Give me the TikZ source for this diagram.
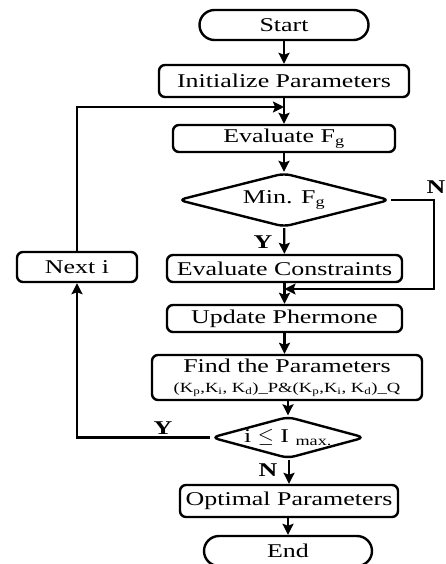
\documentclass[tikz,border=0pt]{standalone}
\usepackage{fontspec}
\setmainfont{Liberation Serif}[FakeStretch=1.33]
\usetikzlibrary{shapes.geometric,arrows.meta}
\tikzstyle{procbox} = [draw,line width=2.4pt,rectangle,rounded corners=6pt,
    inner sep=0pt,text centered,font=\fontsize{19.5}{22}\selectfont]
\tikzstyle{termbox} = [procbox,rounded corners=15pt]
\tikzstyle{decbox} = [draw,line width=2.4pt,diamond,aspect=4,rounded corners=7pt,
    inner sep=0pt,text centered,font=\fontsize{19.5}{22}\selectfont]
\tikzstyle{flow} = [line width=2.3pt,-{Stealth[length=11pt,width=11pt,inset=2pt]}]
\tikzstyle{yn} = [font=\bfseries\fontsize{19.5}{22}\selectfont]
\newcommand{\Fg}{F\textsubscript{g}}
\newcommand{\kpid}{(K\textsubscript{p},K\textsubscript{i}, K\textsubscript{d})}

\begin{document}
\begin{tikzpicture}[x=1pt,y=-1pt]
	\useasboundingbox (0,0) rectangle (445,564);

	\node(start) at (284,25) [termbox,minimum width=169pt,minimum height=30pt] {Start};
	\node(init) at (284,81) [procbox,minimum width=250pt,minimum height=32pt] {Initialize Parameters};
	\node(evalf) at (284,138.5) [procbox,minimum width=222pt,minimum height=27pt] {Evaluate \Fg};
	\node(minf) at (284,200) [decbox,minimum width=212pt,minimum height=54pt] {Min. \Fg};
	\node(evalc) at (284.5,268.5) [procbox,minimum width=235pt,minimum height=27pt] {Evaluate Constraints};
	\node(update) at (284.5,318.5) [procbox,minimum width=235pt,minimum height=27pt] {Update Phermone};
	\node(find) at (287,377.5) [procbox,minimum width=270pt,minimum height=45pt,align=center]
		{Find the Parameters\\[-2pt]{\fontsize{14}{16}\selectfont \kpid\_P\&\kpid\_Q}};
	\node(check) at (288,437.5) [decbox,minimum width=150pt,minimum height=42pt] {i $\leq$ I \textsubscript{max.}};
	\node(optim) at (289,501) [procbox,minimum width=218pt,minimum height=32pt] {Optimal Parameters};
	\node(stop) at (288,551) [termbox,minimum width=168pt,minimum height=30pt] {End};
	\node(next) at (77,267) [procbox,minimum width=120pt,minimum height=30pt] {Next i};

	\coordinate(loopin) at (284,107);
	\coordinate(noin) at (284.5,289);

	% main column
	\draw[flow] (start) -- (init);
	\draw[flow] (init) -- (evalf);
	\draw[flow] (evalf) -- (minf);
	\draw[flow] (minf) -- (evalc);
	\draw[flow] (evalc) -- (update);
	\draw[flow] (update.south) -- (update.south |- find.north);
	\draw[flow] (find.south -| check.north) -- (check);
	\draw[flow] (check.south -| optim.north) -- (optim);
	\draw[flow] (optim.south -| stop.north) -- (stop);

	% branches
	\draw[flow] (minf.east) -- ++(43,0) |- (noin);
	\draw[flow] (check.west) -| (next.south);
	\draw[flow] (next.north) |- (loopin);

	\node[yn] at (263,242) {Y};
	\node[yn] at (436,187) {N};
	\node[yn] at (163,428) {Y};
	\node[yn] at (268,470) {N};
\end{tikzpicture}
\end{document}
